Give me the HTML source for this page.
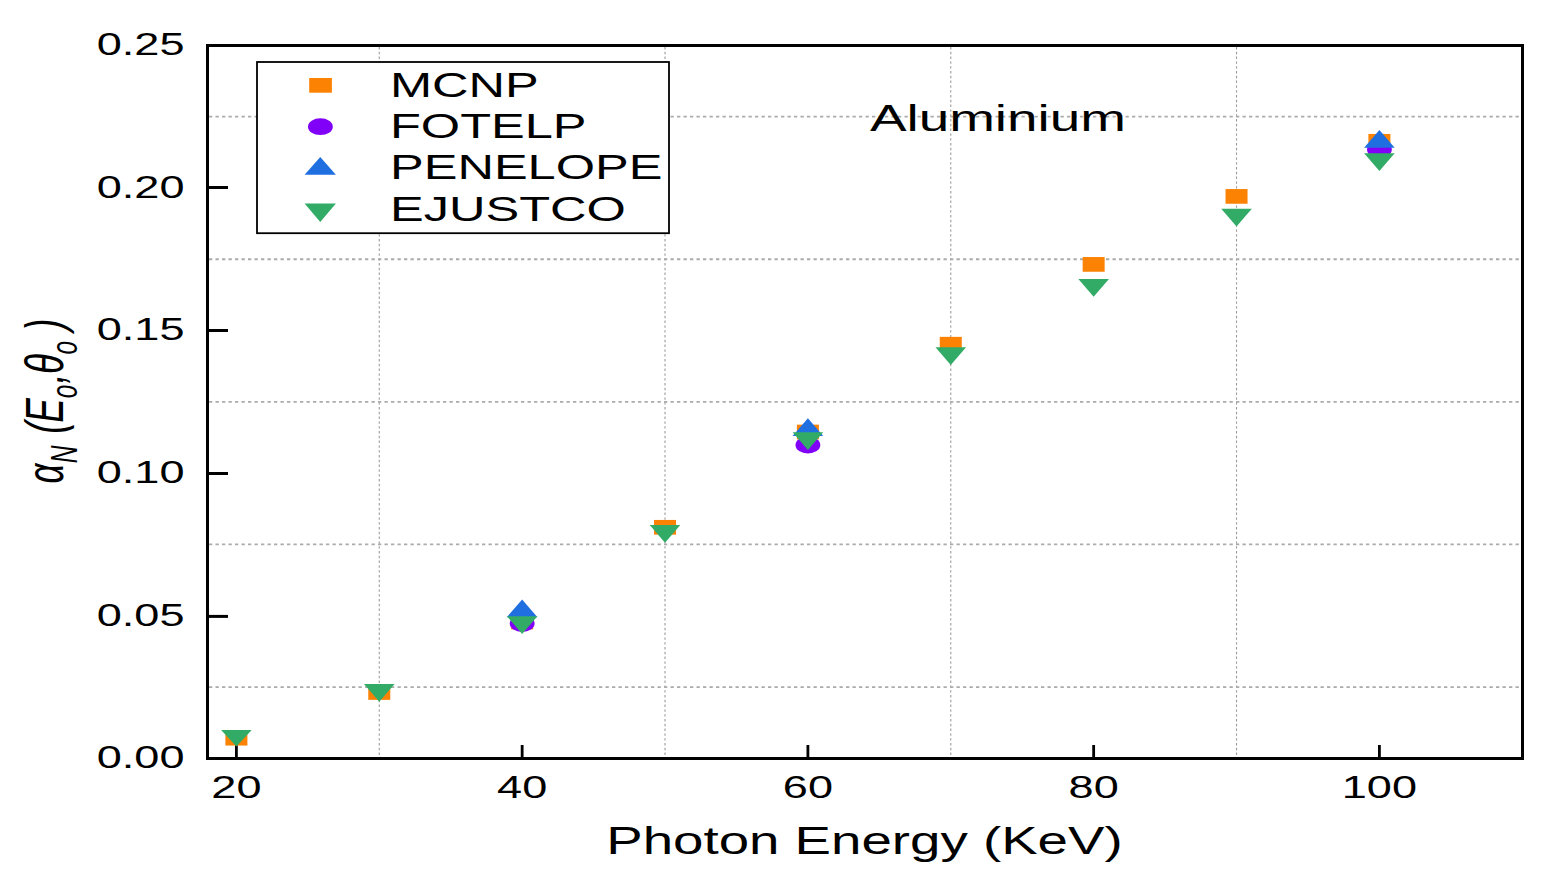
<!DOCTYPE html><html><head><meta charset="utf-8"><title>Aluminium</title><style>html,body{margin:0;padding:0;background:#fff;}svg{display:block;}text{font-family:"Liberation Sans",Arial,sans-serif;fill:#000;}</style></head><body>
<svg width="1545" height="883" viewBox="0 0 1545 883">
<rect x="0" y="0" width="1545" height="883" fill="#fff"/>
<line x1="379.27" y1="47" x2="379.27" y2="757" stroke="#9c9c9c" stroke-width="1.1" stroke-dasharray="2.4 2.4"/>
<line x1="665.02" y1="47" x2="665.02" y2="757" stroke="#9c9c9c" stroke-width="1.1" stroke-dasharray="2.4 2.4"/>
<line x1="950.77" y1="47" x2="950.77" y2="757" stroke="#9c9c9c" stroke-width="1.1" stroke-dasharray="2.4 2.4"/>
<line x1="1236.53" y1="47" x2="1236.53" y2="757" stroke="#9c9c9c" stroke-width="1.1" stroke-dasharray="2.4 2.4"/>
<line x1="209" y1="116.61" x2="1521" y2="116.61" stroke="#ababab" stroke-width="1.8" stroke-dasharray="3.3 3.2"/>
<line x1="209" y1="259.23" x2="1521" y2="259.23" stroke="#ababab" stroke-width="1.8" stroke-dasharray="3.3 3.2"/>
<line x1="209" y1="401.85" x2="1521" y2="401.85" stroke="#ababab" stroke-width="1.8" stroke-dasharray="3.3 3.2"/>
<line x1="209" y1="544.47" x2="1521" y2="544.47" stroke="#ababab" stroke-width="1.8" stroke-dasharray="3.3 3.2"/>
<line x1="209" y1="687.09" x2="1521" y2="687.09" stroke="#ababab" stroke-width="1.8" stroke-dasharray="3.3 3.2"/>
<rect x="207.5" y="45.5" width="1315" height="713" fill="none" stroke="#000" stroke-width="3"/>
<line x1="209" y1="187.50" x2="228" y2="187.50" stroke="#000" stroke-width="3"/>
<line x1="209" y1="330.50" x2="228" y2="330.50" stroke="#000" stroke-width="3"/>
<line x1="209" y1="473.50" x2="228" y2="473.50" stroke="#000" stroke-width="3"/>
<line x1="209" y1="616.40" x2="228" y2="616.40" stroke="#000" stroke-width="3"/>
<line x1="236.40" y1="745" x2="236.40" y2="757" stroke="#000" stroke-width="2.8"/>
<line x1="522.15" y1="745" x2="522.15" y2="757" stroke="#000" stroke-width="2.8"/>
<line x1="807.90" y1="745" x2="807.90" y2="757" stroke="#000" stroke-width="2.8"/>
<line x1="1093.65" y1="745" x2="1093.65" y2="757" stroke="#000" stroke-width="2.8"/>
<line x1="1379.40" y1="745" x2="1379.40" y2="757" stroke="#000" stroke-width="2.8"/>
<text transform="translate(96.69,54.80) scale(1.47,1)" font-size="30.7">0.25</text>
<text transform="translate(96.69,197.52) scale(1.47,1)" font-size="30.7">0.20</text>
<text transform="translate(96.69,340.24) scale(1.47,1)" font-size="30.7">0.15</text>
<text transform="translate(96.69,482.96) scale(1.47,1)" font-size="30.7">0.10</text>
<text transform="translate(96.69,625.68) scale(1.47,1)" font-size="30.7">0.05</text>
<text transform="translate(96.69,768.40) scale(1.47,1)" font-size="30.7">0.00</text>
<text transform="translate(236.40,797.8) scale(1.47,1)" font-size="30.7" text-anchor="middle">20</text>
<text transform="translate(522.15,797.8) scale(1.47,1)" font-size="30.7" text-anchor="middle">40</text>
<text transform="translate(807.90,797.8) scale(1.47,1)" font-size="30.7" text-anchor="middle">60</text>
<text transform="translate(1093.65,797.8) scale(1.47,1)" font-size="30.7" text-anchor="middle">80</text>
<text transform="translate(1379.40,797.8) scale(1.47,1)" font-size="30.7" text-anchor="middle">100</text>
<text transform="translate(606.22,854) scale(1.4385,1)" font-size="38.0">Photon Energy (KeV)</text>
<text transform="translate(869.89,131.1) scale(1.4951,1)" font-size="36.7">Aluminium</text>
<rect x="225.40" y="730.85" width="22" height="14.7" fill="#FC8204"/>
<rect x="368.27" y="685.15" width="22" height="14.7" fill="#FC8204"/>
<rect x="511.15" y="614.65" width="22" height="14.7" fill="#FC8204"/>
<rect x="654.02" y="519.95" width="22" height="14.7" fill="#FC8204"/>
<rect x="796.90" y="424.65" width="22" height="14.7" fill="#FC8204"/>
<rect x="939.77" y="336.85" width="22" height="14.7" fill="#FC8204"/>
<rect x="1082.65" y="257.05" width="22" height="14.7" fill="#FC8204"/>
<rect x="1225.53" y="189.05" width="22" height="14.7" fill="#FC8204"/>
<rect x="1368.40" y="133.95" width="22" height="14.7" fill="#FC8204"/>
<ellipse cx="522.15" cy="623.50" rx="12.4" ry="8.45" fill="#8000F8"/>
<ellipse cx="807.90" cy="445.05" rx="12.4" ry="8.45" fill="#8000F8"/>
<ellipse cx="1379.40" cy="149.50" rx="12.4" ry="8.45" fill="#8000F8"/>
<polygon points="522.15,599.40 537.45,617.20 506.85,617.20" fill="#1F6FE0"/>
<polygon points="807.90,418.30 823.20,436.10 792.60,436.10" fill="#1F6FE0"/>
<polygon points="1379.40,129.95 1394.70,147.75 1364.10,147.75" fill="#1F6FE0"/>
<polygon points="221.10,730.00 251.70,730.00 236.40,746.40" fill="#32AB66"/>
<polygon points="363.97,683.95 394.57,683.95 379.27,701.75" fill="#32AB66"/>
<polygon points="506.85,616.20 537.45,616.20 522.15,634.00" fill="#32AB66"/>
<polygon points="649.73,525.05 680.32,525.05 665.02,542.85" fill="#32AB66"/>
<polygon points="792.60,432.30 823.20,432.30 807.90,450.10" fill="#32AB66"/>
<polygon points="935.48,347.25 966.07,347.25 950.77,365.05" fill="#32AB66"/>
<polygon points="1078.35,278.95 1108.95,278.95 1093.65,296.75" fill="#32AB66"/>
<polygon points="1221.23,208.75 1251.83,208.75 1236.53,226.55" fill="#32AB66"/>
<polygon points="1364.10,153.15 1394.70,153.15 1379.40,170.95" fill="#32AB66"/>
<rect x="257" y="62" width="412" height="171.2" fill="#fff" stroke="#000" stroke-width="1.8"/>
<rect x="309.20" y="78.00" width="22.7" height="14.7" fill="#FC8204"/>
<ellipse cx="320.40" cy="126.65" rx="12.4" ry="8.45" fill="#8000F8"/>
<polygon points="320.25,156.90 335.90,174.80 304.60,174.80" fill="#1F6FE0"/>
<polygon points="304.60,203.60 335.90,203.60 320.25,222.00" fill="#32AB66"/>
<text transform="translate(389.95,96.8) scale(1.453,1)" font-size="34.8">MCNP</text>
<text transform="translate(389.95,138.1) scale(1.453,1)" font-size="34.8">FOTELP</text>
<text transform="translate(389.95,179.4) scale(1.453,1)" font-size="34.8">PENELOPE</text>
<text transform="translate(389.95,220.7) scale(1.453,1)" font-size="34.8">EJUSTCO</text>
<g transform="translate(62.5,483.25) scale(1.47,1) rotate(-90)">
<text font-size="36.8"><tspan x="-0.25" y="0" font-size="35" font-style="italic">α</tspan><tspan x="19.99" y="10.0" font-size="24.5" font-style="italic">N</tspan><tspan x="49.52" y="0" font-style="italic">(</tspan><tspan x="60.41" y="0" font-style="italic">E</tspan><tspan x="84.95" y="10.0" font-size="24.5" font-style="italic">o</tspan><tspan x="99.6" y="0" font-style="italic">,</tspan><tspan x="109.25" y="0" font-style="italic">θ</tspan><tspan x="128.7" y="10.0" font-size="24.5" font-style="italic">o</tspan><tspan x="152.5" y="0" font-style="italic">)</tspan></text>
</g>
</svg></body></html>
